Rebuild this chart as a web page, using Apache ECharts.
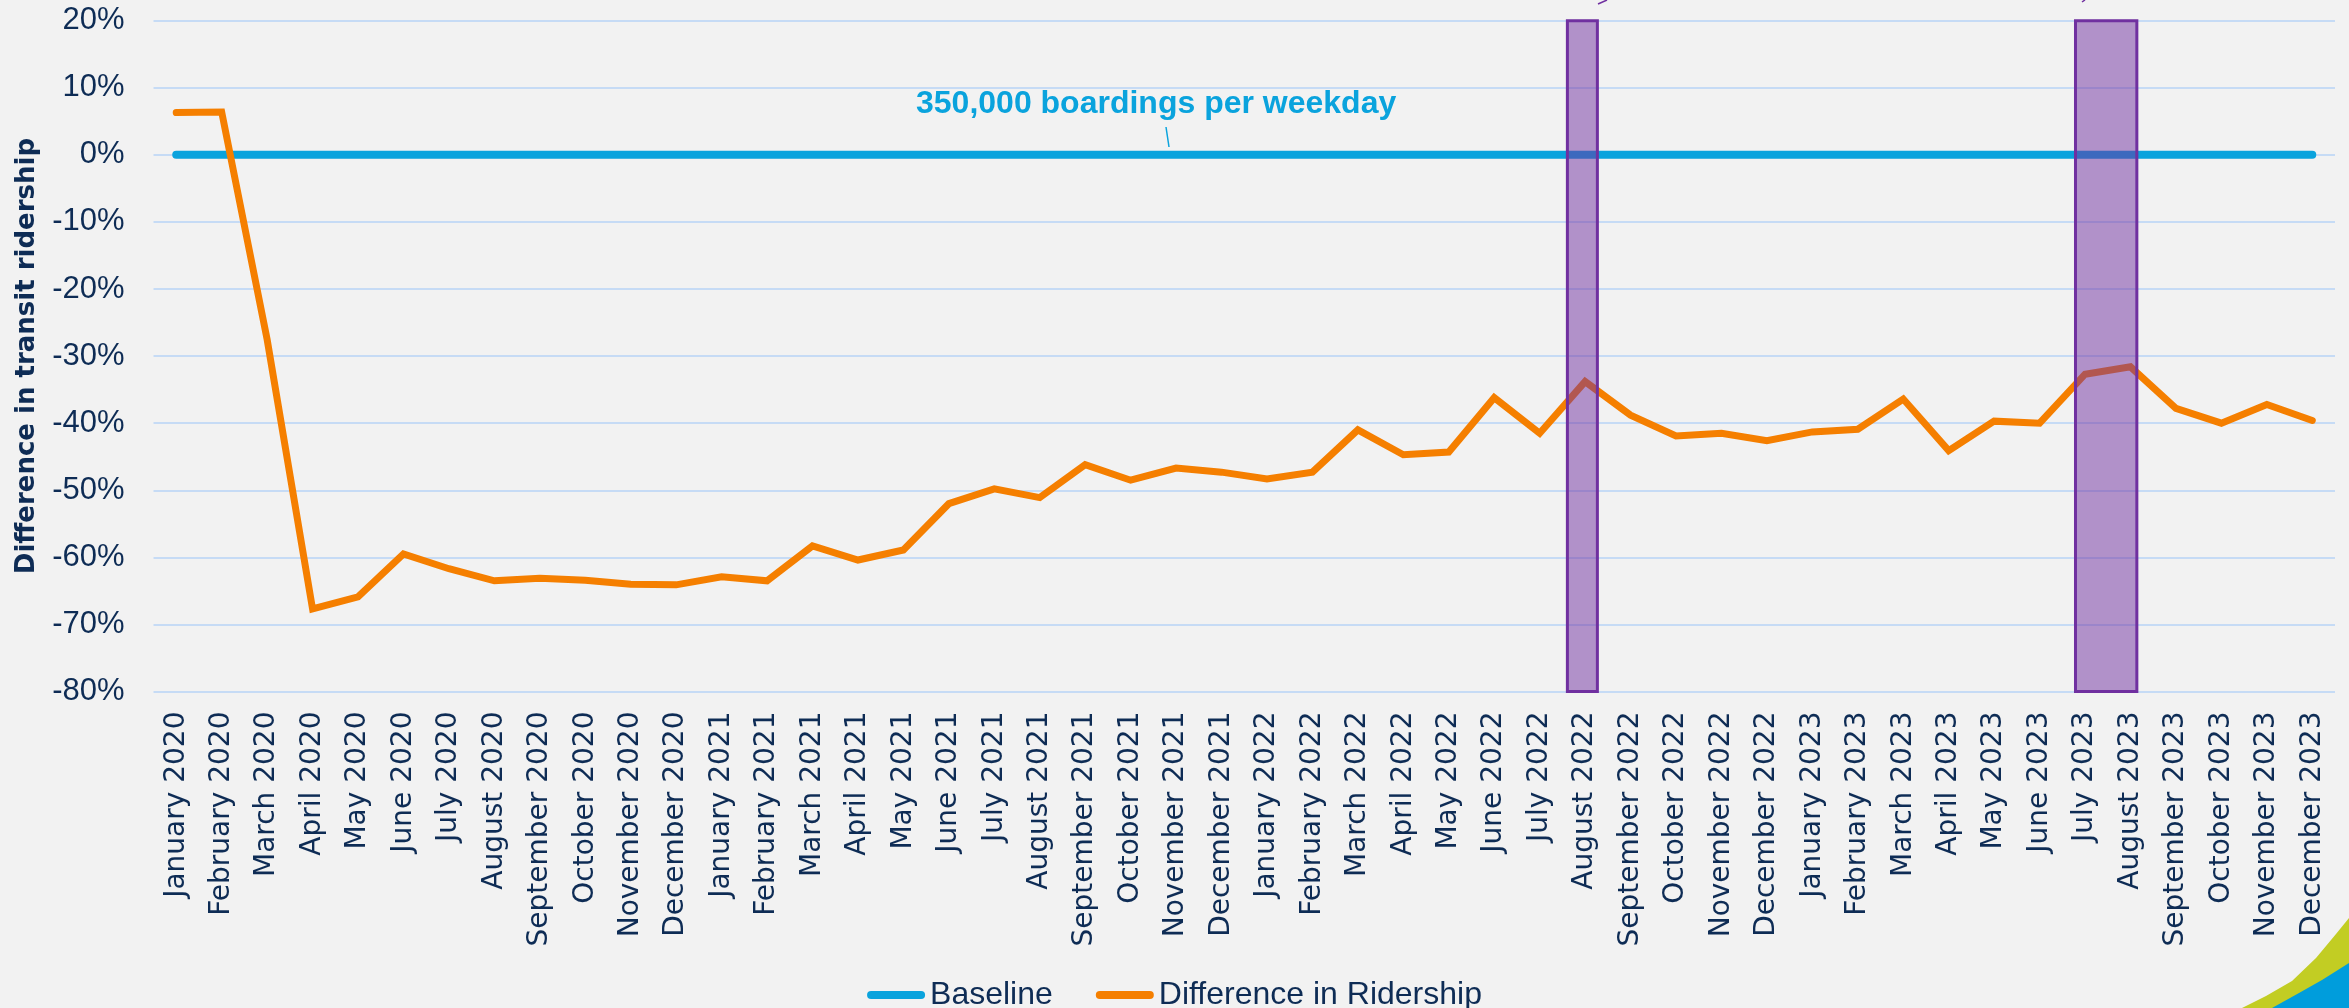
<!DOCTYPE html>
<html>
<head>
<meta charset="utf-8">
<script src="https://cdn.jsdelivr.net/npm/echarts@6/dist/echarts.min.js"></script>
<style>
  html, body { margin: 0; padding: 0; background: #f2f2f2; }
  #chart { width: 2349px; height: 1008px; }
</style>
</head>
<body>
<div id="chart"></div>
<script>
// Months on the x axis
const months = [
  'January 2020', 'February 2020', 'March 2020', 'April 2020', 'May 2020', 'June 2020',
  'July 2020', 'August 2020', 'September 2020', 'October 2020', 'November 2020', 'December 2020',
  'January 2021', 'February 2021', 'March 2021', 'April 2021', 'May 2021', 'June 2021',
  'July 2021', 'August 2021', 'September 2021', 'October 2021', 'November 2021', 'December 2021',
  'January 2022', 'February 2022', 'March 2022', 'April 2022', 'May 2022', 'June 2022',
  'July 2022', 'August 2022', 'September 2022', 'October 2022', 'November 2022', 'December 2022',
  'January 2023', 'February 2023', 'March 2023', 'April 2023', 'May 2023', 'June 2023',
  'July 2023', 'August 2023', 'September 2023', 'October 2023', 'November 2023', 'December 2023'
];

// Baseline = 350,000 boardings per weekday (0%)
const baseline = [
  0, 0, 0, 0, 0, 0, 0, 0, 0, 0, 0, 0,
  0, 0, 0, 0, 0, 0, 0, 0, 0, 0, 0, 0,
  0, 0, 0, 0, 0, 0, 0, 0, 0, 0, 0, 0,
  0, 0, 0, 0, 0, 0, 0, 0, 0, 0, 0, 0
];

// Difference in ridership vs baseline, in %
const ridership = [
  6.3, 6.4, -27.5, -67.7, -65.9, -59.5, -61.7, -63.5, -63.1, -63.4, -64.0, -64.1,
  -62.9, -63.5, -58.3, -60.4, -58.9, -52.0, -49.8, -51.1, -46.2, -48.5, -46.7, -47.3,
  -48.3, -47.3, -41.0, -44.7, -44.3, -36.2, -41.5, -33.8, -38.8, -41.9, -41.5, -42.6,
  -41.3, -40.9, -36.4, -44.1, -39.7, -40.0, -32.7, -31.6, -37.8, -40.0, -37.2, -39.6
];

// Highlighted periods (first and last month of each box)
const highlightFrom = ['August 2022', 'July 2023'];
const highlightTo = ['August 2022', 'August 2023'];

const yTicks = { min: -80, max: 20, step: 10 };

// --- styles ---
const navy = '#0e2c55';
const blue = '#0aa3dd';
const orange = '#f57f00';
const purple = '#7030a0';
const arial = '"Liberation Sans", Arial, sans-serif';
const verdana = '"DejaVu Sans", Verdana, sans-serif';
const boxPadLeft = [0.39, 0.21];   // how far each box reaches left of its first month
const boxPadRight = [0.27, 0.14];  // and right of its last month
const capsule = 'path://M4,0 L54,0 A4,4 0 0 1 54,8 L4,8 A4,4 0 0 1 4,0 Z';

const chart = echarts.init(document.getElementById('chart'));

const areas = highlightFrom.map((m, k) => [
  { xAxis: months.indexOf(m) - boxPadLeft[k], yAxis: yTicks.max },
  { xAxis: months.indexOf(highlightTo[k]) + boxPadRight[k], yAxis: yTicks.min }
]);

const option = {
  backgroundColor: '#f2f2f2',
  animation: false,
  grid: { left: 153.5, right: 14, top: 20.7, bottom: 316.5 },
  legend: {
    data: ['Baseline', 'Difference in Ridership'],
    icon: capsule,
    left: 'center',
    top: 974,
    itemGap: 43,
    itemWidth: 58,
    itemHeight: 8,
    textStyle: { fontFamily: arial, fontSize: 32, color: navy }
  },
  xAxis: [
    {
      type: 'category',
      data: months,
      axisLine: { show: false },
      axisTick: { show: false },
      axisLabel: {
        rotate: 90,
        interval: 0,
        margin: 20,
        fontFamily: verdana,
        fontSize: 28,
        color: navy
      }
    },
    {
      // hidden helper axis, lines up with the month bands, used for the boxes
      type: 'value',
      min: -0.5,
      max: months.length - 0.5,
      show: false
    }
  ],
  yAxis: {
    type: 'value',
    min: yTicks.min,
    max: yTicks.max,
    interval: yTicks.step,
    name: 'Difference in transit ridership',
    nameLocation: 'middle',
    nameGap: 113,
    nameTextStyle: { fontFamily: verdana, fontWeight: 'bold', fontSize: 26, color: navy },
    axisLine: { show: false },
    axisTick: { show: false },
    axisLabel: {
      formatter: '{value}%',
      margin: 29,
      fontFamily: arial,
      fontSize: 31,
      color: navy
    },
    splitLine: { lineStyle: { color: '#c6dbf5', width: 2 } }
  },
  series: [
    {
      name: 'Baseline',
      type: 'line',
      data: baseline,
      symbol: 'none',
      z: 2,
      itemStyle: { color: blue },
      lineStyle: { color: blue, width: 8, cap: 'round' }
    },
    {
      name: 'Difference in Ridership',
      type: 'line',
      data: ridership,
      symbol: 'none',
      z: 3,
      itemStyle: { color: orange },
      lineStyle: { color: orange, width: 7, cap: 'round', join: 'miter' }
    },
    {
      name: 'highlight',
      type: 'line',
      xAxisIndex: 1,
      data: [],
      z: 5,
      markArea: {
        silent: true,
        z: 5,
        itemStyle: { color: 'rgba(112,48,160,0.5)', borderColor: purple, borderWidth: 3 },
        data: areas
      }
    }
  ],
  graphic: [
    {
      type: 'text',
      left: 916,
      top: 88,
      style: {
        text: '350,000 boardings per weekday',
        font: 'bold 32px ' + arial,
        fill: blue
      }
    },
    { type: 'line', shape: { x1: 1166, y1: 127, x2: 1169, y2: 147 }, style: { stroke: blue, lineWidth: 1.5 } },
    { type: 'line', shape: { x1: 1598, y1: 4, x2: 1607, y2: 0 }, style: { stroke: purple, lineWidth: 1.5 } },
    { type: 'line', shape: { x1: 2082, y1: 2, x2: 2085, y2: 0 }, style: { stroke: purple, lineWidth: 1.5 } },
    // corner decoration
    {
      type: 'polygon',
      shape: { points: [[2242, 1008], [2266, 996], [2292, 981], [2316, 958], [2336, 934], [2349, 918], [2349, 1008]] },
      style: { fill: '#c2cd23' }
    },
    {
      type: 'polygon',
      shape: { points: [[2272, 1008], [2299, 993], [2322, 980], [2349, 963], [2349, 1008]] },
      style: { fill: '#009ddc' }
    }
  ]
};

chart.setOption(option);
</script>
</body>
</html>
